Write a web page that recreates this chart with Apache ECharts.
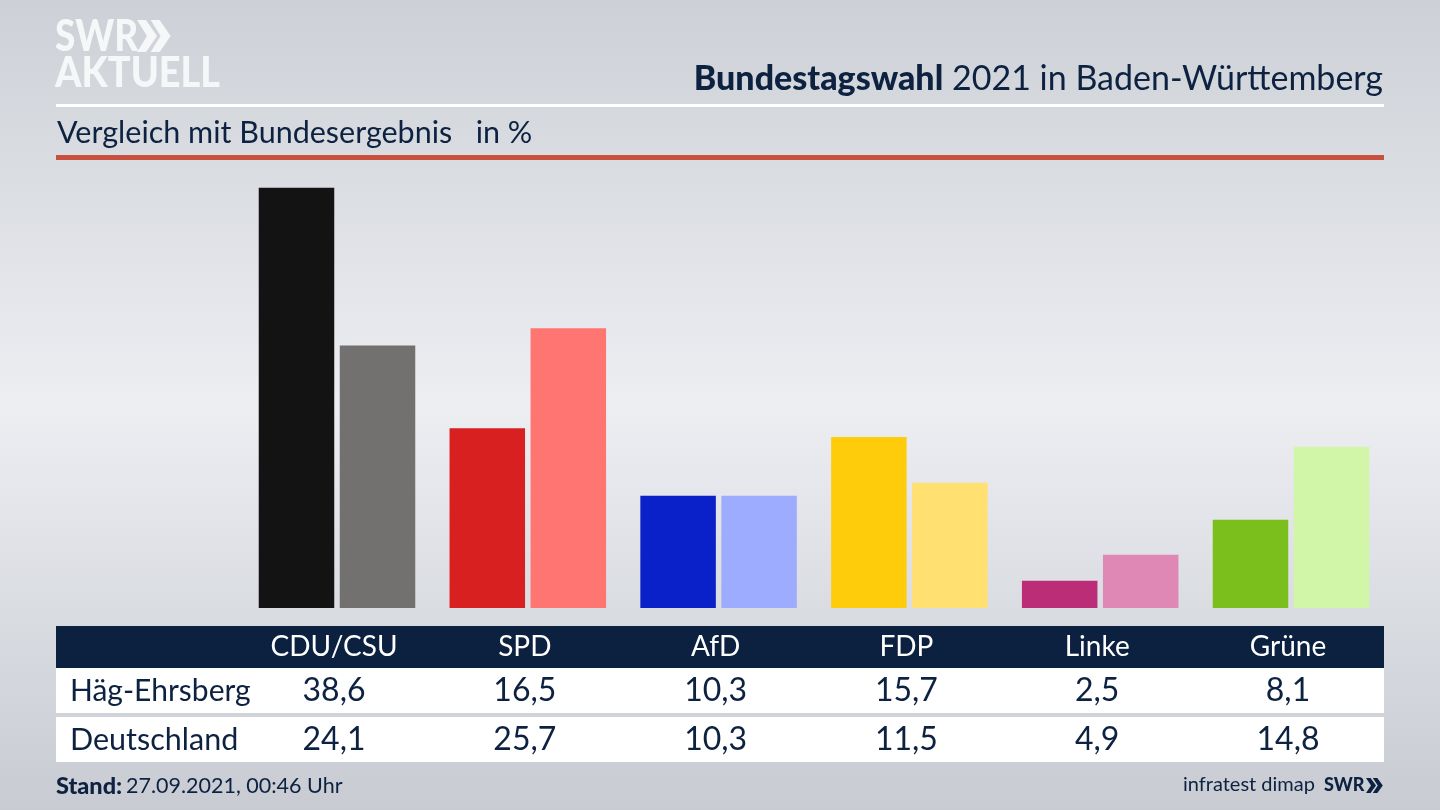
<!DOCTYPE html>
<html>
<head>
<meta charset="utf-8">
<style>html,body{margin:0;padding:0}#main{width:1440px;height:810px}</style>
<script src="https://cdn.jsdelivr.net/npm/echarts@6/dist/echarts.min.js"></script>
</head>
<body>
<div id="main"></div>
<script>
var parties = ['CDU/CSU', 'SPD', 'AfD', 'FDP', 'Linke', 'Grüne'];
var haeg = [38.6, 16.5, 10.3, 15.7, 2.5, 8.1];
var deutschland = [24.1, 25.7, 10.3, 11.5, 4.9, 14.8];
var haegColors = ['#131313', '#d7201f', '#0a20c8', '#ffcc0b', '#bb2d76', '#7abf1c'];
var deColors = ['#72716f', '#ff7571', '#9eacff', '#ffe071', '#df88b6', '#d2f6a7'];
var rowNames = ['Häg-Ehrsberg', 'Deutschland'];

var navy = '#0d2140';
var font = 'Lato';

var fmt = function (v) { return v.toFixed(1).replace('.', ','); };

function barData(values, colors) {
  return values.map(function (v, i) {
    return { value: v, itemStyle: { color: colors[i] } };
  });
}

function tableAxis(data, margin, color, size) {
  return {
    type: 'category',
    gridIndex: 1,
    position: 'top',
    data: data,
    axisLine: { show: false },
    axisTick: { show: false },
    z: 5,
    axisLabel: {
      inside: true,
      margin: margin,
      interval: 0,
      color: color,
      fontFamily: font,
      fontSize: size,
      verticalAlign: 'middle'
    }
  };
}

function txt(x, y, text, size, opts) {
  return {
    type: 'text',
    x: x,
    y: y,
    z: 5,
    style: Object.assign({
      text: text,
      fill: navy,
      font: size + 'px ' + font,
      textAlign: 'left',
      textVerticalAlign: 'middle'
    }, opts || {})
  };
}

function logoTxt(x, y, text, size, sx) {
  var t = txt(x, y, text, size, { fill: '#f6f7f8', font: '900 ' + size + 'px ' + font });
  t.scaleX = sx;
  return t;
}

function box(x, y, w, h, fill) {
  return { type: 'rect', z: 1, shape: { x: x, y: y, width: w, height: h }, style: { fill: fill } };
}

function chevrons(x, y, w, h, fill) {
  var one = function (x0) {
    return {
      type: 'polygon',
      z: 5,
      shape: { points: [[x0, y], [x0 + w * 0.45, y], [x0 + w, y + h / 2], [x0 + w * 0.45, y + h], [x0, y + h], [x0 + w * 0.5, y + h / 2]] },
      style: { fill: fill }
    };
  };
  return [one(x), one(x + w * 0.68)];
}

var chart = echarts.init(document.getElementById('main'));

var option = {
  animation: false,
  backgroundColor: {
    type: 'linear', x: 0, y: 0, x2: 0, y2: 1,
    colorStops: [
      { offset: 0, color: '#cdd0d6' },
      { offset: 0.5, color: '#eceef2' },
      { offset: 1, color: '#c8cbd2' }
    ]
  },
  grid: [
    { left: 241.6, width: 1144.8, top: 172.4, height: 435.6 },
    { left: 238.6, width: 1144.8, top: 626, height: 136 }
  ],
  xAxis: [
    {
      type: 'category',
      data: parties,
      axisLine: { show: false },
      axisTick: { show: false },
      axisLabel: { show: false }
    },
    tableAxis(parties, 21, '#ffffff', 28),
    tableAxis(haeg.map(fmt), 65, navy, 32),
    tableAxis(deutschland.map(fmt), 114, navy, 32)
  ],
  yAxis: [
    { type: 'value', min: 0, max: 40, show: false },
    { type: 'value', gridIndex: 1, show: false }
  ],
  series: [
    {
      name: 'Häg-Ehrsberg',
      type: 'bar',
      data: barData(haeg, haegColors),
      barWidth: 75.5,
      barGap: '7.3%',
      silent: true
    },
    {
      name: 'Deutschland',
      type: 'bar',
      data: barData(deutschland, deColors),
      barWidth: 75.5,
      silent: true
    }
  ],
  graphic: [
    box(56, 104, 1328, 3, '#ffffff'),
    box(56, 155, 1328, 5, '#c9503f'),
    box(56, 626, 1328, 42, '#0c2040'),
    box(56, 668, 1328, 45, '#ffffff'),
    box(56, 717, 1328, 45, '#ffffff'),

    // logo
    logoTxt(55, 37, 'SWR', 43, 0.86),
    logoTxt(55, 73, 'AKTUELL', 42, 0.9),

    // kopfzeile
    {
      type: 'text', x: 1383, y: 79, z: 5,
      style: {
        text: '{b|Bundestagswahl} 2021 in Baden-Württemberg',
        font: '34px ' + font,
        fill: navy,
        textAlign: 'right',
        textVerticalAlign: 'middle',
        rich: { b: { font: '900 34px ' + font, fill: navy } }
      }
    },
    txt(57, 133, 'Vergleich mit Bundesergebnis   in %', 30.5),

    // zeilennamen
    txt(70, 691, rowNames[0], 30),
    txt(70, 740, rowNames[1], 30.5),

    // fusszeile
    txt(56, 786, 'Stand:', 23.5, { font: '900 23.5px ' + font }),
    txt(126, 786, '27.09.2021, 00:46 Uhr', 21.5),
    txt(1183, 785, 'infratest dimap', 20),
    txt(1324, 785, 'SWR', 18, { font: '900 18px ' + font })
  ]
    .concat(chevrons(137, 20, 20, 32, '#f6f7f8'))
    .concat(chevrons(1366, 778, 10, 15, navy))
};

chart.setOption(option);
</script>
</body>
</html>
